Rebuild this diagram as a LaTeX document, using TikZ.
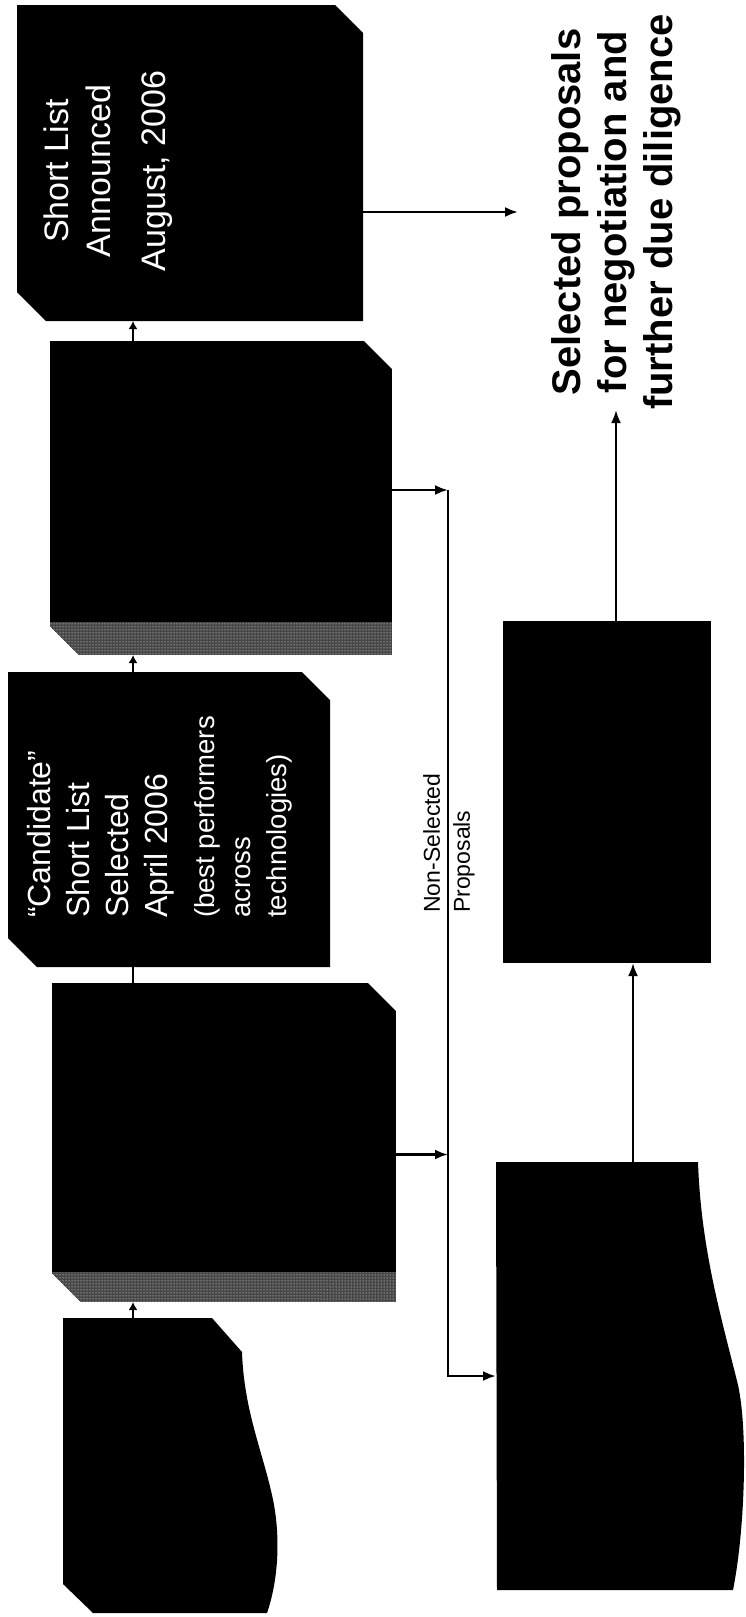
\documentclass[tikz,border=0pt]{standalone}
\usepackage{fontspec}
\setmainfont{Liberation Sans}
\usetikzlibrary{
    arrows.meta,
    patterns,
    calc
}

\newcommand{\cutpath}{(path picture bounding box.north west)
    -- ([xshift=-28pt]path picture bounding box.north east)
    -- ([yshift=-28pt]path picture bounding box.north east)
    -- (path picture bounding box.south east)
    -- ([xshift=29pt]path picture bounding box.south west)
    -- ([yshift=29pt]path picture bounding box.south west) -- cycle}

\tikzset{
    stage/.style={fill=white, inner sep=0pt, outer sep=0pt,
        path picture={\fill[black] \cutpath;}},
    banded/.style={fill=white, inner sep=0pt, outer sep=0pt,
        path picture={
            \clip \cutpath;
            \fill[black] (path picture bounding box.south west) rectangle (path picture bounding box.north east);
            \fill[black!72] (path picture bounding box.south west) rectangle ([yshift=#1]path picture bounding box.south east);
            \fill[pattern=dots, pattern color=white] (path picture bounding box.south west) rectangle ([yshift=#1]path picture bounding box.south east);}},
    area/.style={inner sep=0pt, outer sep=0pt},
    flow/.style={line width=2.5pt, -{Latex[length=13pt, width=10pt]}},
    stemflow/.style={line width=2.5pt, -{Latex[length=8pt, width=9pt]}},
    link/.style={line width=2.5pt},
    boxtext/.style={text=white, inner sep=0pt, rotate=90}
}

\begin{document}
\begin{tikzpicture}[x=1pt, y=-1pt]
    \useasboundingbox (0,0) rectangle (745,1617);
    \coordinate (stem) at (133,0);
    \coordinate (trunk) at (448,0);
    \coordinate (rise) at (633,0);

    % left column, from the bottom up
    \node[area, minimum width=179pt, minimum height=295pt] (received) at (152.5,1465.5) {};
    \fill (63,1318) -- (212,1318) -- (242,1352)
        .. controls (244,1410) and (262,1450) .. (272,1495)
        .. controls (280,1530) and (280,1575) .. (267,1613)
        -- (93,1613) -- (63,1584) -- cycle;
    \node[banded=30pt, minimum width=344pt, minimum height=319pt] (screen) at (224,1142.5) {};
    \node[stage, minimum width=322pt, minimum height=295pt] (candidate) at (169,819.5) {};
    \node[banded=33pt, minimum width=342pt, minimum height=314pt] (review) at (221,498) {};
    \node[stage, minimum width=346pt, minimum height=316pt] (shortlist) at (190,163) {};

    \node[boxtext, anchor=north west, text width=240pt, align=left] (candtxt) at (27,918)
        {\fontsize{32}{39}\selectfont\spaceskip=0pt “Candidate”\\Short List\\Selected\\April 2006\par
         \vspace{11pt}\fontsize{27.5}{36}\selectfont\spaceskip=0pt (best performers\\across\\technologies)\par};
    \node[boxtext, align=center, font=\fontsize{34}{42}\selectfont] (sltxt) at (108,171)
        {Short List\\Announced\\[13pt]August, 2006};

    % right column
    \node[fill=black, inner sep=0pt, outer sep=0pt, minimum width=208pt, minimum height=342pt] (recon) at (607,792) {};
    \node[area, minimum width=202pt, minimum height=428pt] (pool) at (597,1376) {};
    \fill (496,1162) -- (698,1162)
        .. controls (701,1250) and (722,1320) .. (738,1385)
        .. controls (748,1430) and (745,1530) .. (733,1590)
        -- (497,1590) -- cycle;

    \node[rotate=90, inner sep=0pt, align=center, font=\bfseries\fontsize{40}{46}\selectfont] (selected) at (616,212)
        {Selected proposals\\for negotiation and\\further due diligence};
    \node[rotate=90, inner sep=0pt, anchor=north west, align=left, font=\fontsize{23}{30}\selectfont] (nonsel) at (423,913)
        {Non-Selected\\Proposals};

    % connectors
    \draw[stemflow] (received.north -| stem) -- (screen.south -| stem);
    \draw[link] (screen.north -| stem) -- (candidate.south -| stem);
    \draw[stemflow] (candidate.north -| stem) -- (review.south -| stem);
    \draw[stemflow] (review.north -| stem) -- (shortlist.south -| stem);
    \draw[flow, shorten >=33pt] (shortlist.east |- selected.north) -- (selected.north);
    \draw[flow] ([yshift=8pt]review.east) -- ([yshift=8pt]review.east -| trunk);
    \draw[flow] ([yshift=-12pt]screen.east) -- ([yshift=-12pt]screen.east -| trunk);
    \draw[flow] ([yshift=8pt]review.east -| trunk) |- (pool.west);
    \draw[flow] (pool.north -| rise) -- (recon.south -| rise);
    \draw[flow] (recon.north -| selected.west) -- (selected.west);
\end{tikzpicture}
\end{document}
